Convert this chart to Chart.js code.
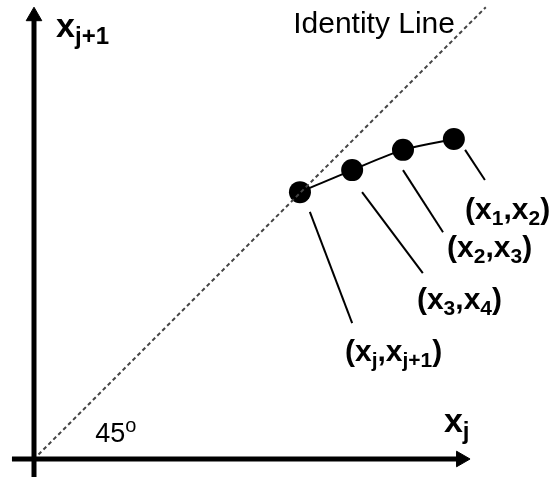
<!DOCTYPE html>
<html>
<head>
<meta charset="utf-8">
<script src="https://cdn.jsdelivr.net/npm/chart.js@4"></script>
<style>
  html, body { margin: 0; padding: 0; background: #fff; }
  #wrap { width: 551px; height: 477px; }
</style>
</head>
<body>
<div id="wrap"><canvas id="mapChart" width="551" height="477"></canvas></div>
<script>
// iterates of the map, plotted as (x_j, x_j+1)
const pointX = [59.1, 70.7, 82.0, 93.3];
const pointY = [59.3, 64.2, 68.7, 71.1];

// identity line y = x
const identityX = [1, 100.4];
const identityY = [1, 100.4];

// axes
const xAxisX = [-4.9, 94.9];
const xAxisY = [0, 0];
const yAxisX = [0, 0];
const yAxisY = [-4, 98.4];

// leader lines from each point to its label: [x0, y0, x1, y1]
const leaderLines = [
    [61.3, 54.9, 70.7, 30.2],
    [72.9, 59.3, 86.4, 41.3],
    [82.0, 64.2, 90.9, 50.4],
    [95.8, 68.7, 100.2, 62.0]
];

// text labels; runs of [text, kind] where kind is 'n' normal, 's' sub, 'p' sup
const labelRuns = [
    [['(x', 'n'], ['1', 's'], [',x', 'n'], ['2', 's'], [')', 'n']],
    [['(x', 'n'], ['2', 's'], [',x', 'n'], ['3', 's'], [')', 'n']],
    [['(x', 'n'], ['3', 's'], [',x', 'n'], ['4', 's'], [')', 'n']],
    [['(x', 'n'], ['j', 's'], [',x', 'n'], ['j+1', 's'], [')', 'n']],
    [['x', 'n'], ['j+1', 's']],
    [['x', 'n'], ['j', 's']],
    [['Identity Line', 'n']],
    [['45', 'n'], ['o', 'p']]
];
const labelX = [95.8, 91.8, 85.1, 69.1, 4.9, 91.1, 57.6, 13.6];
const labelY = [53.3, 44.9, 33.3, 21.8, 93.8, 6.0, 94.7, 3.8];
const labelSize = [30, 30, 30, 30, 34, 34, 30, 27];
const labelBold = [true, true, true, true, true, true, false, false];

const FONT = '"Liberation Sans", Arial, sans-serif';

const labelPlugin = {
    id: 'labels',
    afterDatasetsDraw(chart) {
        const ctx = chart.ctx;
        const xs = chart.scales.x;
        const ys = chart.scales.y;
        ctx.save();
        ctx.fillStyle = '#000';
        ctx.textBaseline = 'alphabetic';
        labelRuns.forEach((runs, i) => {
            let px = xs.getPixelForValue(labelX[i]);
            const py = ys.getPixelForValue(labelY[i]);
            const size = labelSize[i];
            const weight = labelBold[i] ? 'bold ' : '';
            runs.forEach(([t, kind]) => {
                let s = size, dy = 0;
                if (kind === 's') { s = Math.round(size * 0.7); dy = size * 0.2; }
                if (kind === 'p') { s = Math.round(size * 0.75); dy = -size * 0.35; }
                ctx.font = weight + s + 'px ' + FONT;
                ctx.fillText(t, px, py + dy);
                px += ctx.measureText(t).width;
            });
        });
        ctx.restore();
    }
};

const toXY = (xs, ys) => xs.map((v, i) => ({ x: v, y: ys[i] }));

const datasets = [
    {
        data: toXY(identityX, identityY),
        showLine: true,
        borderColor: '#444',
        borderWidth: 2,
        borderDash: [4, 3],
        pointRadius: 0
    },
    {
        data: toXY(xAxisX, xAxisY),
        showLine: true,
        borderColor: '#000',
        backgroundColor: '#000',
        borderWidth: 5,
        pointStyle: 'triangle',
        pointRotation: 90,
        pointRadius: [0, 9],
        pointBorderWidth: 1
    },
    {
        data: toXY(yAxisX, yAxisY),
        showLine: true,
        borderColor: '#000',
        backgroundColor: '#000',
        borderWidth: 5,
        pointStyle: 'triangle',
        pointRotation: 0,
        pointRadius: [0, 9],
        pointBorderWidth: 1
    }
];

leaderLines.forEach(l => {
    datasets.push({
        data: [{ x: l[0], y: l[1] }, { x: l[2], y: l[3] }],
        showLine: true,
        borderColor: '#000',
        borderWidth: 2,
        pointRadius: 0
    });
});

datasets.push({
    data: toXY(pointX, pointY),
    showLine: true,
    tension: 0.3,
    borderColor: '#000',
    backgroundColor: '#000',
    borderWidth: 2,
    pointRadius: 11,
    pointBorderWidth: 0
});

new Chart(document.getElementById('mapChart'), {
    type: 'scatter',
    data: { datasets: datasets },
    options: {
        responsive: false,
        animation: false,
        clip: false,
        layout: { padding: 0, autoPadding: false },
        plugins: { legend: { display: false }, tooltip: { enabled: false } },
        scales: {
            x: { type: 'linear', display: false, min: -7.556, max: 114.889 },
            y: { type: 'linear', display: false, min: -4, max: 102 }
        }
    },
    plugins: [labelPlugin]
});
</script>
</body>
</html>
